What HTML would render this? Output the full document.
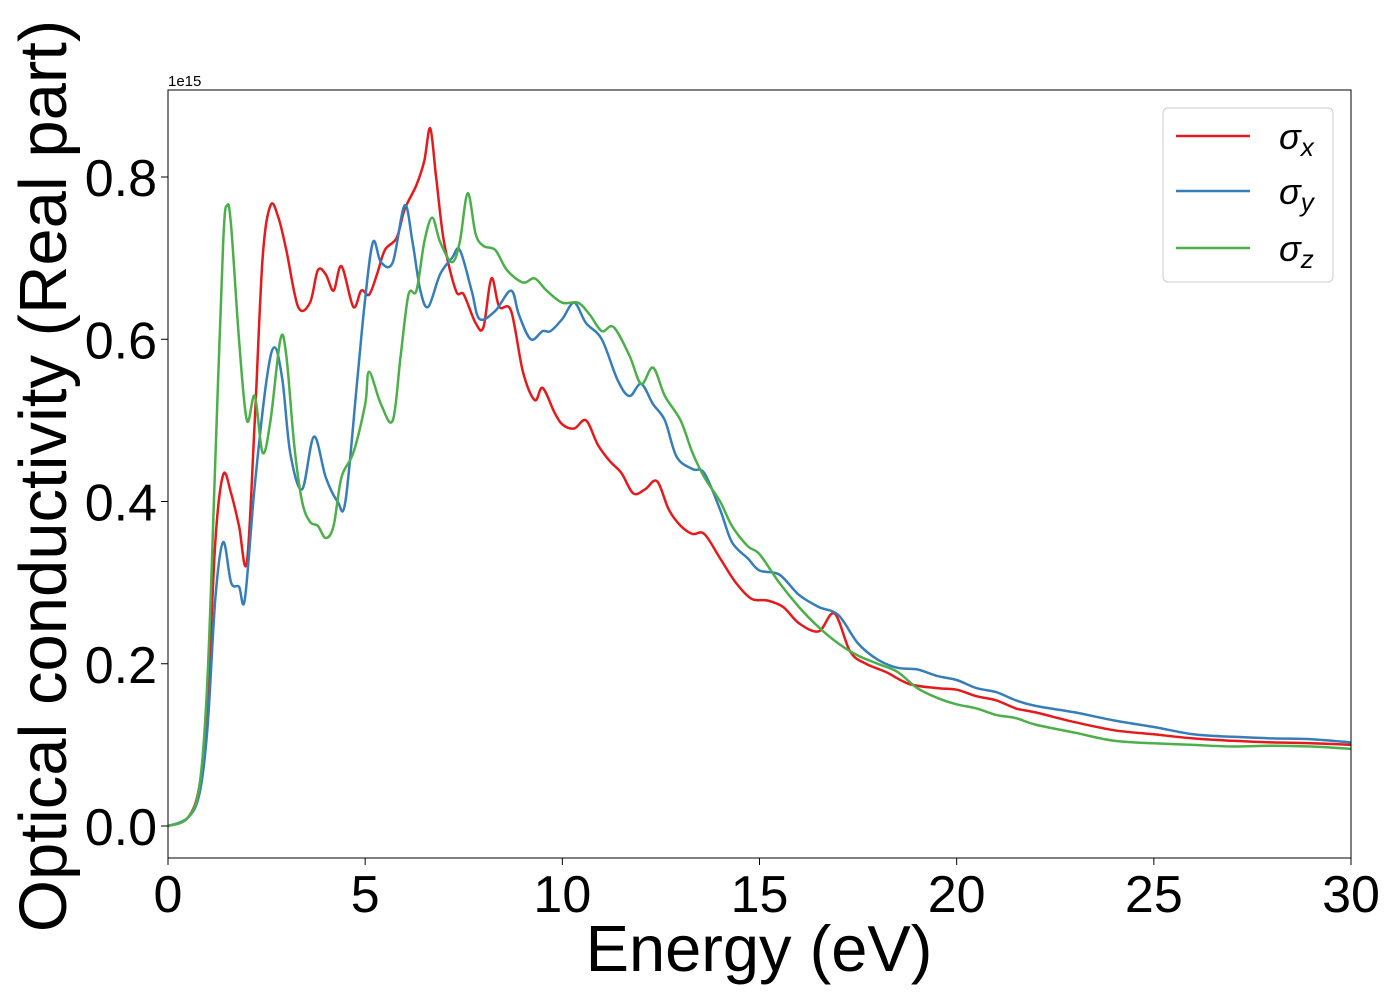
<!DOCTYPE html>
<html><head><meta charset="utf-8"><style>
html,body{margin:0;padding:0;background:#fff;width:1400px;height:1000px;overflow:hidden}
text{font-family:"Liberation Sans","DejaVu Sans",sans-serif}
</style></head><body>
<svg id="chart" width="1400" height="1000" xmlns="http://www.w3.org/2000/svg">
<g id="axes"></g>
</svg>
<script>
const xTicks=[0,5,10,15,20,25,30];
const yTicks=[0.0,0.2,0.4,0.6,0.8];
const yTickLabels=["0.0","0.2","0.4","0.6","0.8"];
const ex=[0,0.5,0.8,1.0,1.2,1.4,1.6,1.8,2.0,2.2,2.4,2.6,2.8,3.0,3.3,3.6,3.8,4.0,4.2,4.4,4.7,4.9,5.1,5.3,5.5,5.8,6.0,6.3,6.5,6.65,6.8,7.0,7.3,7.5,7.8,8.0,8.2,8.4,8.7,9.0,9.3,9.5,9.8,10.0,10.3,10.6,10.9,11.2,11.5,11.8,12.1,12.4,12.7,13.0,13.3,13.6,14.0,14.4,14.8,15.2,15.6,16.0,16.5,16.9,17.3,17.7,18.2,18.8,19.5,20.0,20.5,21.0,21.5,22.0,23.0,24.0,25.0,26.0,27,28,29,30];
const sx=[0,0.01,0.05,0.15,0.35,0.433,0.41,0.37,0.325,0.5,0.7,0.765,0.75,0.71,0.64,0.645,0.685,0.68,0.66,0.69,0.64,0.66,0.655,0.68,0.71,0.725,0.76,0.79,0.82,0.86,0.8,0.72,0.66,0.655,0.62,0.615,0.675,0.64,0.635,0.56,0.525,0.54,0.51,0.495,0.49,0.5,0.47,0.45,0.435,0.41,0.415,0.425,0.39,0.37,0.36,0.36,0.33,0.3,0.28,0.278,0.27,0.25,0.24,0.262,0.215,0.2,0.19,0.175,0.17,0.168,0.16,0.155,0.145,0.14,0.128,0.118,0.113,0.108,0.105,0.103,0.102,0.1];
const ey=[0,0.5,0.8,1.0,1.2,1.4,1.6,1.8,1.95,2.2,2.5,2.7,2.9,3.1,3.4,3.7,4.0,4.3,4.5,4.8,5.0,5.2,5.4,5.7,6.0,6.2,6.4,6.6,6.9,7.2,7.4,7.7,7.9,8.3,8.7,8.9,9.2,9.5,9.7,10.0,10.3,10.6,11.0,11.4,11.7,12.0,12.3,12.6,12.9,13.3,13.6,14.0,14.3,14.7,15.0,15.5,16.0,16.5,17.0,17.5,18.0,18.5,19.0,19.5,20.0,20.5,21.0,21.5,22.0,23.0,24.0,25.0,26.0,27,28,29,30];
const sy=[0,0.01,0.04,0.12,0.28,0.35,0.3,0.295,0.28,0.42,0.55,0.59,0.55,0.46,0.415,0.48,0.43,0.4,0.4,0.55,0.65,0.72,0.695,0.695,0.765,0.72,0.66,0.64,0.68,0.7,0.71,0.66,0.625,0.635,0.66,0.63,0.6,0.61,0.61,0.625,0.645,0.62,0.6,0.55,0.53,0.545,0.52,0.5,0.455,0.44,0.435,0.39,0.35,0.33,0.315,0.31,0.285,0.27,0.26,0.225,0.205,0.195,0.193,0.185,0.18,0.17,0.165,0.155,0.148,0.14,0.13,0.122,0.113,0.11,0.108,0.107,0.103];
const ez=[0,0.5,0.8,1.0,1.2,1.4,1.5,1.6,1.8,2.0,2.2,2.4,2.6,2.85,3.0,3.2,3.4,3.6,3.8,4.0,4.2,4.4,4.7,5.0,5.1,5.4,5.7,5.9,6.1,6.3,6.5,6.7,6.9,7.2,7.4,7.6,7.8,8.0,8.3,8.6,9.0,9.3,9.6,10.0,10.4,10.7,11.0,11.3,11.7,12.0,12.3,12.6,13.0,13.3,13.6,14.0,14.3,14.7,15.0,15.5,16.0,16.5,17.0,17.5,18.0,18.5,19.0,19.5,20.0,20.5,21.0,21.5,22.0,23.0,24.0,25.0,26.0,27,28,29,30];
const sz=[0,0.01,0.05,0.18,0.45,0.72,0.765,0.74,0.6,0.5,0.53,0.46,0.5,0.6,0.58,0.47,0.4,0.375,0.37,0.355,0.37,0.43,0.46,0.52,0.56,0.52,0.5,0.58,0.655,0.66,0.72,0.75,0.72,0.695,0.72,0.78,0.73,0.715,0.71,0.685,0.67,0.675,0.66,0.645,0.645,0.63,0.61,0.615,0.58,0.545,0.565,0.53,0.5,0.46,0.43,0.4,0.37,0.345,0.335,0.3,0.27,0.245,0.225,0.21,0.2,0.19,0.17,0.158,0.15,0.145,0.137,0.133,0.125,0.115,0.105,0.102,0.1,0.098,0.099,0.098,0.095];

const L=168,R=1351,T=90,B=858;
const X=v=>L+(v-0)/30*(R-L);
const Y=v=>826-v*811.25;
const NS="http://www.w3.org/2000/svg";
const svg=document.getElementById('chart');
function mk(tag,attrs,parent){const e=document.createElementNS(NS,tag);for(const k in attrs)e.setAttribute(k,attrs[k]);(parent||svg).appendChild(e);return e;}

function smooth(xs,ys){
  const p=xs.map((x,i)=>[X(x),Y(ys[i])]);
  let d="M"+p[0][0].toFixed(1)+","+p[0][1].toFixed(1);
  for(let i=0;i<p.length-1;i++){
    const p0=p[Math.max(0,i-1)],p1=p[i],p2=p[i+1],p3=p[Math.min(p.length-1,i+2)];
    const c1=[p1[0]+(p2[0]-p0[0])/6,p1[1]+(p2[1]-p0[1])/6];
    const c2=[p2[0]-(p3[0]-p1[0])/6,p2[1]-(p3[1]-p1[1])/6];
    d+=" C"+c1.map(v=>v.toFixed(1)).join(",")+" "+c2.map(v=>v.toFixed(1)).join(",")+" "+p2[0].toFixed(1)+","+p2[1].toFixed(1);
  }
  return d;
}
const clip=mk('clipPath',{id:'clip'});
mk('rect',{x:L,y:T,width:R-L,height:B-T},clip);

const series=[[ex,sx,'#e41a1c','series-sigma-x'],[ey,sy,'#377eb8','series-sigma-y'],[ez,sz,'#4daf4a','series-sigma-z']];
series.forEach(s=>{
  const p=mk('path',{d:smooth(s[0],s[1]),fill:'none',stroke:s[2],'stroke-width':2.5,'clip-path':'url(#clip)'});
  
  
});

const frame=mk('rect',{x:L,y:T,width:R-L,height:B-T,fill:'none',stroke:'#000','stroke-width':1});



xTicks.forEach(v=>{
  const l=mk('line',{x1:X(v),x2:X(v),y1:B,y2:B+7,stroke:'#000','stroke-width':1});
  
  
  const t=mk('text',{x:X(v),y:912,'text-anchor':'middle','font-size':52});
  t.textContent=String(v);
  
  
});
yTicks.forEach((v,i)=>{
  const l=mk('line',{x1:L-7,x2:L,y1:Y(v),y2:Y(v),stroke:'#000','stroke-width':1});
  
  
  const t=mk('text',{x:157,y:Y(v)+19,'text-anchor':'end','font-size':52});
  t.textContent=yTickLabels[i];
  
  
});
</script>
<svg style="position:absolute;left:0;top:0" width="1400" height="1000" xmlns="http://www.w3.org/2000/svg">
<text x="168" y="86" font-size="15">1e15</text>
<text x="759" y="971" text-anchor="middle" font-size="65">Energy (eV)</text>
<text transform="translate(66,476) rotate(-90)" text-anchor="middle" font-size="67">Optical conductivity (Real part)</text>
<g>
<rect x="1163" y="108" width="170" height="174" rx="5" fill="#fff" stroke="#ccc" stroke-width="1"/>
<line x1="1176" x2="1250" y1="136" y2="136" stroke="#e41a1c" stroke-width="2.5"/>
<text x="1279" y="149" font-size="36" font-style="italic">σ<tspan font-size="26" dy="7">x</tspan></text>
<line x1="1176" x2="1250" y1="191" y2="191" stroke="#377eb8" stroke-width="2.5"/>
<text x="1279" y="204" font-size="36" font-style="italic">σ<tspan font-size="26" dy="7">y</tspan></text>
<line x1="1176" x2="1250" y1="248" y2="248" stroke="#4daf4a" stroke-width="2.5"/>
<text x="1279" y="261" font-size="36" font-style="italic">σ<tspan font-size="26" dy="7">z</tspan></text>
</g>
</svg>
</body></html>
